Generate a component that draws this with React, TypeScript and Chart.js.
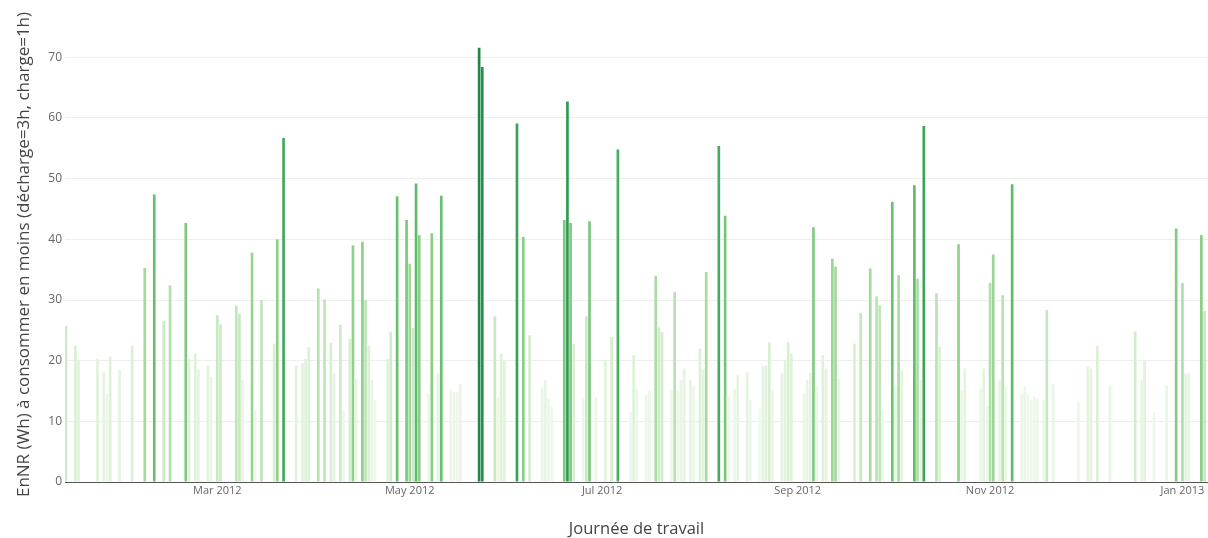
import React, { useEffect, useRef } from 'react';
import { Chart, registerables } from 'chart.js';

Chart.register(...registerables);

// Day index 0 = 13 Jan 2012
const barDays: number[] = [
  0, 3, 4, 10, 12, 13, 14, 17, 21, 25, 28, 31, 33, 38, 39, 41, 42, 45, 46, 48, 49, 54, 55, 56,
  59, 60, 62, 66, 67, 69, 73, 75, 76, 77, 80, 82, 84, 85, 87, 88, 90, 91, 92, 94, 95, 96, 97, 98,
  102, 103, 105, 108, 109, 110, 111, 112,
  115, 116, 118, 119, 122, 123, 124, 125, 131, 132, 136, 137, 138, 139, 143, 145, 147, 151, 152,
  153, 154, 158, 159, 160, 161, 164, 165, 166, 168, 171, 173, 175,
  179, 180, 181, 184, 185, 187, 188, 189, 192, 193, 194, 195, 196, 198, 199, 201, 202, 203, 207,
  209, 210, 212, 213, 216, 217, 220, 221, 222, 223, 224, 227, 228, 229, 230, 234, 235,
  236, 237, 238, 240, 241, 243, 244, 245, 250, 252, 255, 257, 258, 259, 262, 263, 264, 265, 269,
  270, 271, 272, 276, 277, 283, 284, 285, 290, 291, 292, 293, 294,
  296, 297, 298, 300, 303, 304, 305, 306, 307, 308, 310, 311, 313, 321, 324, 325, 327, 331, 339,
  341, 342, 345, 349, 352, 354, 355, 356, 360, 361,
];

const barValues: number[] = [
  25.7, 22.5, 20, 20.3, 18.1, 14.6, 20.7, 18.5, 22.4, 35.3, 47.4, 26.5, 32.4, 42.7, 20.3, 21.2, 18.5, 19.2, 17.3, 27.5, 26, 29.1, 27.7, 16.8,
  37.8, 12, 30, 22.8, 40, 56.7, 19.2, 19.6, 20.3, 22.2, 31.9, 30.1, 23, 17.9, 25.9, 11.8, 23.6, 39, 17, 39.6, 30, 22.4, 16.8, 13.5,
  20.3, 24.8, 47.1, 43.2, 36, 25.4, 49.2, 40.7,
  14.6, 41, 17.9, 47.2, 15.1, 14.8, 14.8, 16.2, 71.6, 68.4, 27.3, 14, 21.2, 20.1, 59.1, 40.4, 24.2, 15.7, 16.8,
  13.7, 12.4, 43.2, 62.7, 42.7, 22.8, 13.7, 27.3, 43, 14, 20.1, 23.9, 54.8,
  11.5, 20.9, 15.4, 14.3, 15, 34, 25.5, 24.7, 15.1, 31.3, 15.1, 16.8, 18.7, 16.9, 15.7, 22, 18.5, 34.6, 55.4,
  43.9, 14.3, 15.4, 17.6, 18.1, 13.5, 12.1, 19, 19.2, 23, 15.1, 18, 20.1, 23, 21.2, 14.6, 16.8,
  18, 42, 15.7, 20.9, 18.7, 36.8, 35.5, 17, 22.8, 27.9, 35.2, 30.6, 29.1, 12, 46.2, 15.7, 34.1, 18.4, 48.9,
  33.5, 16.8, 58.7, 31.1, 22.3, 39.2, 15.1, 18.7, 15.4, 18.7, 12.4, 32.8, 37.5,
  16.9, 30.8, 15.7, 49.1, 14.6, 15.7, 14.3, 13.5, 14, 13.7, 13.5, 28.4, 16.2, 13.2, 19, 18.7, 22.4, 15.9, 24.8,
  16.8, 19.9, 11.5, 15.9, 41.8, 32.8, 17.9, 17.9, 40.7, 28.2,
];

const xTickDays: number[] = [48, 109, 170, 232, 293, 354];
const xTickLabels: string[] = ['Mar 2012', 'May 2012', 'Jul 2012', 'Sep 2012', 'Nov 2012', 'Jan 2013'];
const yTickValues: number[] = [0, 10, 20, 30, 40, 50, 60, 70];

const yTitle = 'EnNR (Wh) à consommer en moins (décharge=3h, charge=1h)';
const xTitle = 'Journée de travail';

const colorStops: [number, number, number, number][] = [
  [0, 247, 252, 245],
  [15, 236, 247, 232],
  [22, 220, 241, 214],
  [30, 190, 229, 183],
  [40, 140, 207, 135],
  [50, 90, 185, 105],
  [60, 55, 160, 85],
  [72, 30, 135, 70],
];

function colorFor(v: number): string {
  for (let i = 0; i < colorStops.length - 1; i++) {
    const a = colorStops[i];
    const b = colorStops[i + 1];
    if (v <= b[0]) {
      const t = Math.max(0, (v - a[0]) / (b[0] - a[0]));
      const r = Math.round(a[1] + (b[1] - a[1]) * t);
      const g = Math.round(a[2] + (b[2] - a[2]) * t);
      const bl = Math.round(a[3] + (b[3] - a[3]) * t);
      return `rgb(${r},${g},${bl})`;
    }
  }
  const l = colorStops[colorStops.length - 1];
  return `rgb(${l[1]},${l[2]},${l[3]})`;
}

export default function App() {
  const canvasRef = useRef<HTMLCanvasElement | null>(null);

  useEffect(() => {
    if (!canvasRef.current) return;
    const chart = new Chart(canvasRef.current, {
      type: 'bar',
      data: {
        datasets: [
          {
            data: barDays.map((d, i) => ({ x: d, y: barValues[i] })),
            backgroundColor: barValues.map(colorFor),
            borderWidth: 0,
            barPercentage: 1,
            categoryPercentage: 0.85,
          },
        ],
      },
      options: {
        animation: false,
        responsive: false,
        maintainAspectRatio: false,
        devicePixelRatio: 1,
        layout: { padding: { top: 27, left: 0, right: 0, bottom: 0 } },
        plugins: { legend: { display: false }, tooltip: { enabled: false } },
        scales: {
          x: {
            type: 'linear',
            min: -0.3,
            max: 362.1,
            offset: false,
            bounds: 'data',
            grid: { display: false, drawTicks: false, offset: false },
            border: { display: true, color: '#555', width: 1 },
            afterBuildTicks: (s: any) => {
              s.ticks = xTickDays.map((v) => ({ value: v }));
            },
            afterFit: (s: any) => {
              s.height = 56;
            },
            ticks: {
              autoSkip: false,
              maxRotation: 0,
              padding: 2,
              color: '#666',
              font: { family: 'Open Sans', size: 11 },
              callback: (v: any) => {
                const i = xTickDays.indexOf(Number(v));
                return i >= 0 ? xTickLabels[i] : '';
              },
            },
            title: {
              display: true,
              text: xTitle,
              color: '#444',
              font: { family: 'Open Sans', size: 16.5, lineHeight: 1 },
              padding: { top: 0, bottom: 0 },
            },
          },
          y: {
            min: 0,
            max: 75,
            afterBuildTicks: (s: any) => {
              s.ticks = yTickValues.map((v) => ({ value: v }));
            },
            afterFit: (s: any) => {
              s.width = 65;
            },
            grid: { color: '#eeeeee', drawTicks: false },
            border: { display: false },
            ticks: {
              padding: 3,
              color: '#666',
              font: { family: 'Open Sans', size: 12 },
            },
            title: {
              display: true,
              text: yTitle,
              color: '#444',
              font: { family: 'Open Sans', size: 17, lineHeight: 1.2 },
              padding: { top: 14, bottom: 0 },
            },
          },
        },
      },
    } as any);
    return () => chart.destroy();
  }, []);

  return (
    <div style={{ position: 'fixed', left: 0, top: 0, width: 1208, height: 538, background: '#fff' }}>
      <canvas ref={canvasRef} width={1208} height={538} />
    </div>
  );
}
